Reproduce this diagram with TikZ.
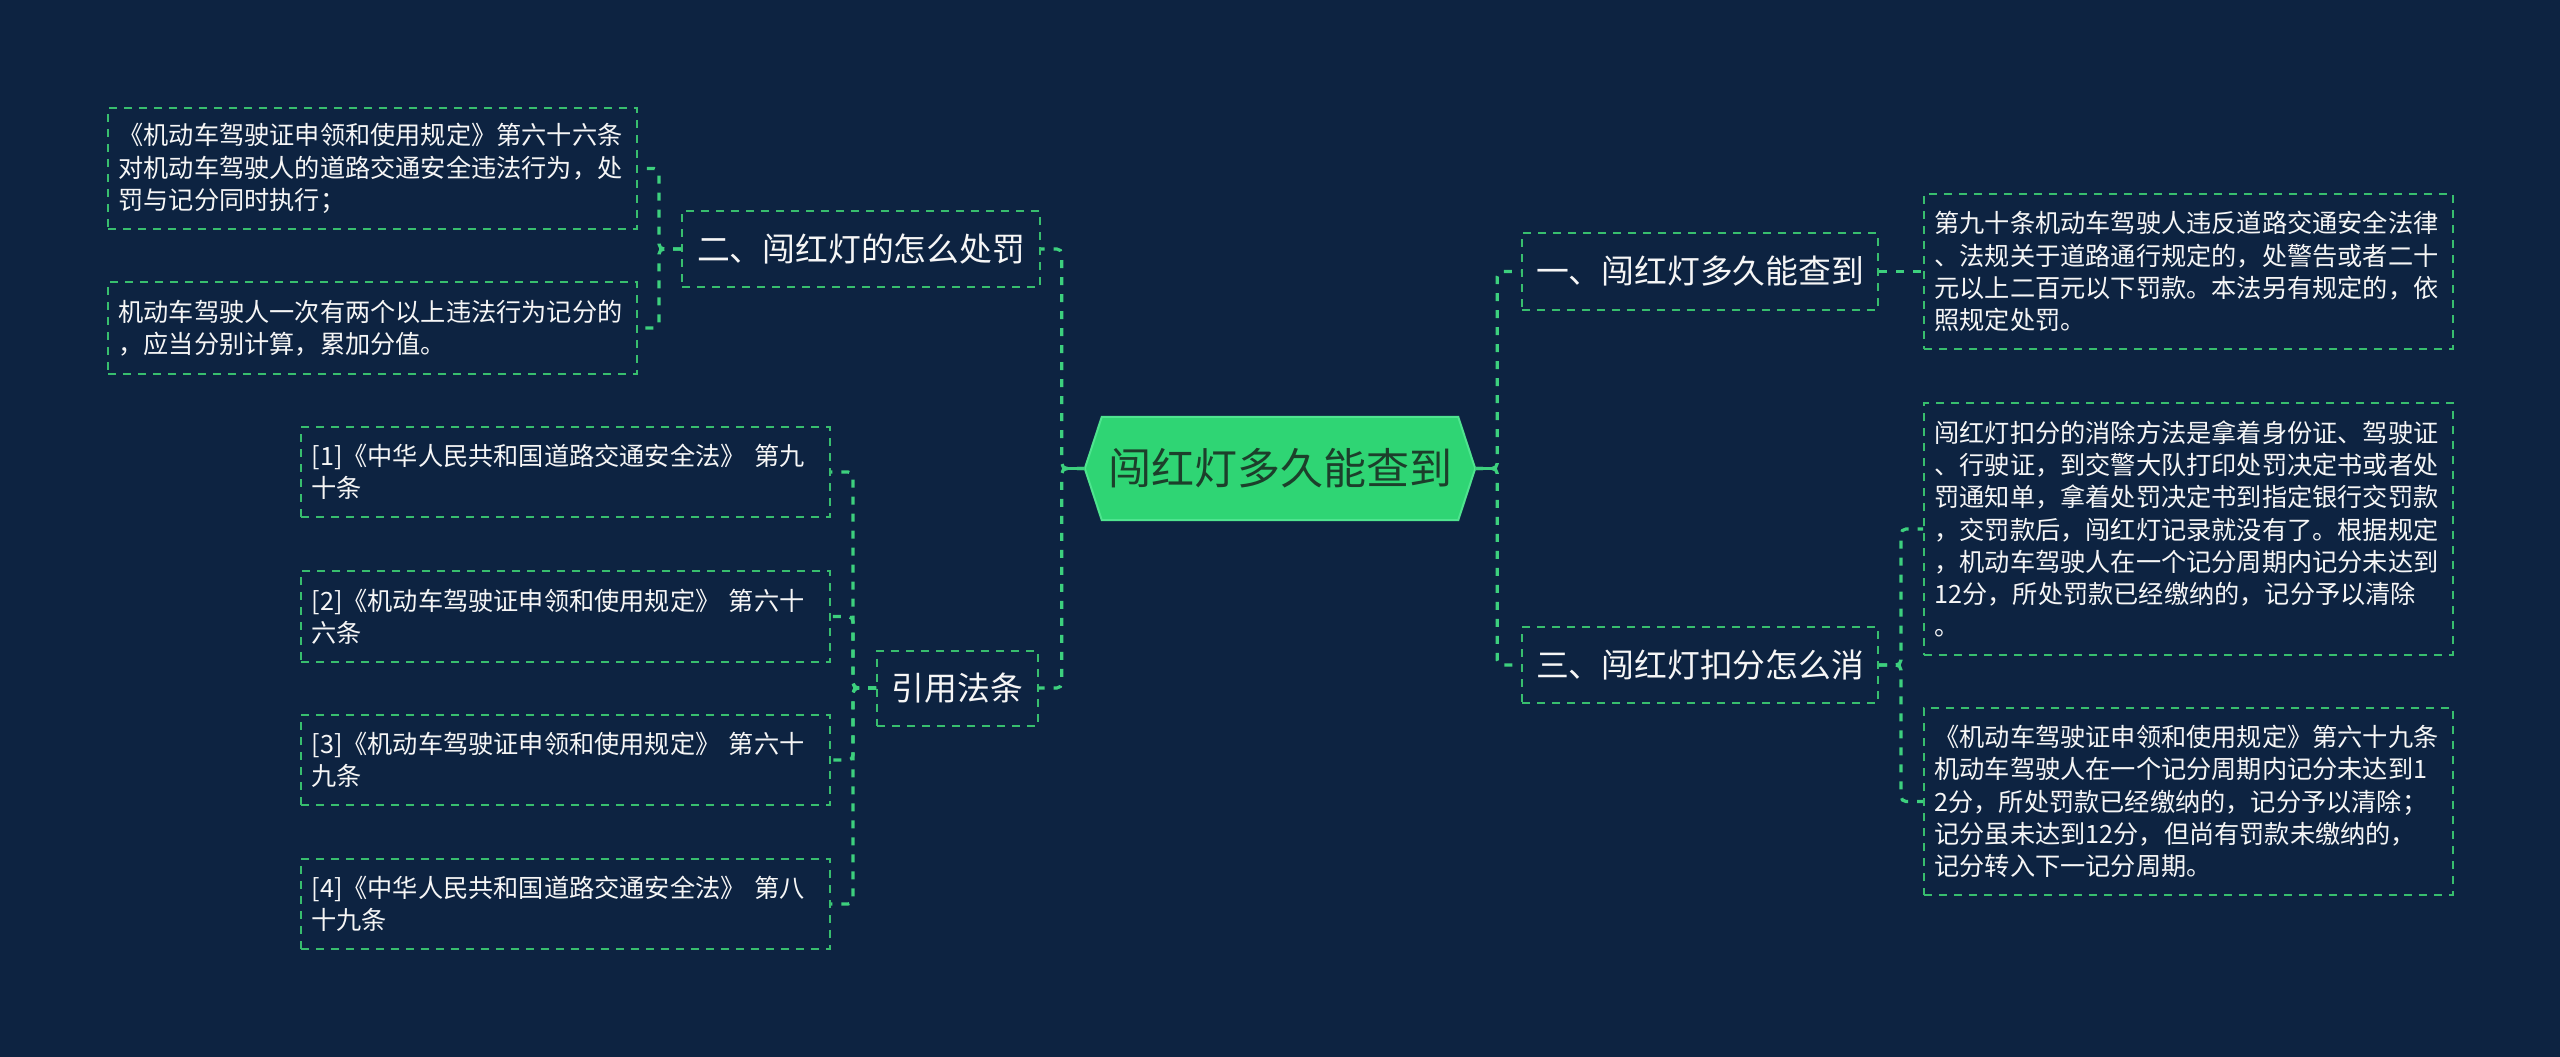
\documentclass[tikz,border=0pt]{standalone}
\usepackage{fontspec}
\setmainfont{Noto Sans CJK SC}
\usetikzlibrary{calc,backgrounds}
\definecolor{bgc}{HTML}{0D2341}
\definecolor{lg}{HTML}{3DD07E}
\definecolor{bd}{HTML}{38BE6E}
\definecolor{hexfill}{HTML}{2FD574}
\definecolor{hexline}{HTML}{4FE48F}
\definecolor{hextext}{HTML}{1C3F2B}
\definecolor{txt}{HTML}{F6F6F6}
\begin{document}
\begin{tikzpicture}[x=1pt,y=-1pt,
  box/.style={draw=bd, line width=2pt, dash pattern=on 8pt off 7pt, text=txt, inner sep=0pt},
  leaf/.style={box, minimum width=529pt, text width=508pt, align=left, font=\fontsize{25.2}{32.2}\selectfont},
  topic/.style={box, minimum height=76pt, font=\fontsize{32.8}{38}\selectfont},
  conn/.style={draw=lg, line width=3.2pt, dash pattern=on 8pt off 9pt, rounded corners=5pt},
  stub/.style={draw=lg, line width=3.2pt}]
\useasboundingbox (0,0) rectangle (2560,1057);

% central topic
\node[minimum width=356pt, minimum height=103pt, inner sep=0pt, text=hextext,
      font=\fontsize{43}{43}\selectfont] (C) at (1280,468.5) {闯红灯多久能查到};
\coordinate (Cw) at ($(C.west)+(-17,0)$);
\coordinate (Ce) at ($(C.east)+(17,0)$);

\begin{scope}[on background layer]
  \fill[bgc] (0,0) rectangle (2560,1057);
  \filldraw[fill=hexfill, draw=hexline, line width=2pt]
    (Cw) -- (C.north west) -- (C.north east) -- (Ce) -- (C.south east) -- (C.south west) -- cycle;
\end{scope}

% first level topics
\node[topic, minimum width=358pt] (T2) at (861,249) {二、闯红灯的怎么处罚};
\node[topic, minimum width=161pt, minimum height=75pt] (T4) at (957.5,688) {引用法条};
\node[topic, minimum width=356pt, minimum height=77pt] (T1) at (1700,271.5) {一、闯红灯多久能查到};
\node[topic, minimum width=356pt] (T3) at (1700,665) {三、闯红灯扣分怎么消};

% left leaves
\node[leaf, minimum height=121pt] (A) at (372.5,168.5) {《机动车驾驶证申领和使用规定》第六十六条\\对机动车驾驶人的道路交通安全违法行为，处\\罚与记分同时执行；};
\node[leaf, minimum height=92pt] (B) at (372.5,328) {机动车驾驶人一次有两个以上违法行为记分的\\，应当分别计算，累加分值。};
\node[leaf, minimum height=90pt] (L1) at (565.5,472) {[1]《中华人民共和国道路交通安全法》 第九\\十条};
\node[leaf, minimum height=91pt] (L2) at (565.5,616.5) {[2]《机动车驾驶证申领和使用规定》 第六十\\六条};
\node[leaf, minimum height=90pt] (L3) at (565.5,760) {[3]《机动车驾驶证申领和使用规定》 第六十\\九条};
\node[leaf, minimum height=90pt] (L4) at (565.5,904) {[4]《中华人民共和国道路交通安全法》 第八\\十九条};

% right leaves
\node[leaf, minimum height=155pt] (R1) at (2188.5,271.5) {第九十条机动车驾驶人违反道路交通安全法律\\、法规关于道路通行规定的，处警告或者二十\\元以上二百元以下罚款。本法另有规定的，依\\照规定处罚。};
\node[leaf, minimum height=252pt] (R2) at (2188.5,529) {闯红灯扣分的消除方法是拿着身份证、驾驶证\\、行驶证，到交警大队打印处罚决定书或者处\\罚通知单，拿着处罚决定书到指定银行交罚款\\，交罚款后，闯红灯记录就没有了。根据规定\\，机动车驾驶人在一个记分周期内记分未达到\\12分，所处罚款已经缴纳的，记分予以清除\\。};
\node[leaf, minimum height=187pt] (R3) at (2188.5,801.5) {《机动车驾驶证申领和使用规定》第六十九条\\机动车驾驶人在一个记分周期内记分未达到1\\2分，所处罚款已经缴纳的，记分予以清除；\\记分虽未达到12分，但尚有罚款未缴纳的，\\记分转入下一记分周期。};

% connectors from the centre
\draw[stub] (Cw) -- ++(-23,0);
\draw[stub] (Ce) -- ++(22,0);
\draw[conn] (Cw) -- ++(-23,0) |- (T2.east);
\draw[conn] (Cw) -- ++(-23,0) |- (T4.east);
\draw[conn] (Ce) -- ++(22,0) |- (T1.west);
\draw[conn] (Ce) -- ++(22,0) |- (T3.west);

% second level connectors
\draw[conn] (T2.west) -- ++(-22,0) |- (A.east);
\draw[conn] (T2.west) -- ++(-22,0) |- (B.east);
\draw[conn] (T4.west) -- ++(-23,0) |- (L1.east);
\draw[conn] (T4.west) -- ++(-23,0) |- (L2.east);
\draw[conn] (T4.west) -- ++(-23,0) |- (L3.east);
\draw[conn] (T4.west) -- ++(-23,0) |- (L4.east);
\draw[conn] (T1.east) -- (R1.west);
\draw[conn] (T3.east) -- ++(22,0) |- (R2.west);
\draw[conn] (T3.east) -- ++(22,0) |- (R3.west);
\end{tikzpicture}
\end{document}
